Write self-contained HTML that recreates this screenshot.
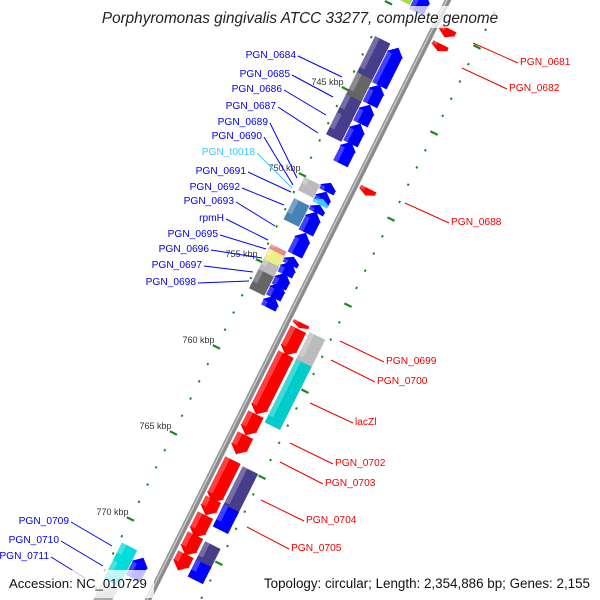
<!DOCTYPE html>
<html><head><meta charset="utf-8"><style>
html,body{margin:0;padding:0;background:#fff;overflow:hidden;width:600px;height:600px;}
svg{display:block;font-family:"Liberation Sans","DejaVu Sans",sans-serif;}
</style></head><body>
<svg id="map" width="600" height="600" viewBox="0 0 600 600" overflow="hidden">
<g id="rot" transform="translate(448,0) rotate(26.565)"></g>
<g id="labels"></g>
<rect x="95" y="6" width="410" height="22" fill="#fff" opacity="0.75"/>
<text x="300" y="23" text-anchor="middle" font-size="15.3" font-style="italic" fill="#222">Porphyromonas gingivalis ATCC 33277, complete genome</text>
<rect x="4" y="570" width="150" height="28" fill="#fff" opacity="0.75"/>
<text x="9" y="588" font-size="13.2" fill="#111">Accession: NC_010729</text>
<rect x="257" y="570" width="340" height="28" fill="#fff" opacity="0.75"/>
<text x="590" y="588" text-anchor="end" font-size="13.4" fill="#111">Topology: circular; Length: 2,354,886 bp; Genes: 2,155</text>
</svg>
<script>
var geneStart=[738.7,741.86,744.01,745.17,746.28,747.33,749.71,750.23,750.64,750.99,751.40,752.62,754.01,754.30,754.94,755.52,756.28,771.5,
 738.7,741.86,743.95,745.23,746.28,750.06,751.28,753.95,754.19,754.83,755.41,771.3,772.3,773.5,
 739.8,740.7,749.1,756.9,757.27,758.72,762.21,763.43,764.88,767.15,768.08,769.24,770.35,
 757.15,758.72,764.94,767.15,769.30,770.35];
var geneEnd=[739.8,744.07,745.17,746.28,747.44,748.60,750.23,750.87,750.99,751.45,752.62,753.90,754.48,755.06,755.76,756.40,756.98,772.7,
 739.6,744.07,745.35,746.40,747.56,750.81,752.50,754.24,754.94,755.52,756.51,772.3,773.4,774.6,
 740.3,741.1,749.5,757.2,758.78,762.21,763.43,764.53,767.33,768.08,769.36,770.41,771.28,
 758.90,762.38,767.44,768.43,770.52,771.34];
var geneLane=[1,1,1,1,1,1,1,1,1,1,1,1,1,1,1,1,1,1,
 0,0,0,0,0,0,0,0,0,0,0,0,0,0,
 2,2,2,2,2,2,2,2,2,2,2,2,2,
 3,3,3,3,3,3];
var geneStrand=[-1,-1,-1,-1,-1,-1,-1,-1,-1,-1,-1,-1,-1,-1,-1,-1,-1,-1,
 0,0,0,0,0,0,0,0,0,0,0,0,0,0,
 1,1,1,1,1,1,1,1,1,1,1,1,1,
 0,0,0,0,0,0];
var geneColor=["#0000ff","#0000ff","#0000ff","#0000ff","#0000ff","#0000ff","#0000ff","#0000ff","#33ccff","#0000ff","#0000ff","#0000ff","#0000ff","#0000ff","#0000ff","#0000ff","#0000ff","#0000ff",
 "#aadd44","#483d8b","#666666","#483d8b","#483d8b","#bbbbbb","#4682b4","#ee8888","#eeee88","#bbbbbb","#666666","#00dddd","#00dddd","#aaaaaa",
 "#ff0000","#ff0000","#ff0000","#ff0000","#ff0000","#ff0000","#ff0000","#ff0000","#ff0000","#ff0000","#ff0000","#ff0000","#ff0000",
 "#bbbbbb","#00cccc","#483d8b","#0000ff","#483d8b","#0000ff"];
var tickKbp=[745,750,755,760,765,770];
var tickLabels=["745 kbp","750 kbp","755 kbp","760 kbp","765 kbp","770 kbp"];
var leftNames=["PGN_0684","PGN_0685","PGN_0686","PGN_0687","PGN_0689","PGN_0690","PGN_t0018","PGN_0691","PGN_0692","PGN_0693","rpmH","PGN_0695","PGN_0696","PGN_0697","PGN_0698","PGN_0709","PGN_0710","PGN_0711"];
var leftLabelY=[58,77,92,109,125,139,155,174,190,204,221,237,252,268,285,524,543,559];
var leftLabelX=[296,290,282,276,268,262,255,246,240,234,224,218,209,202,196,69,59,49];
var leftTargetX=[342,333,326,318,297,293,292,291,284,275,268,266,262,253,249,112,103,85];
var leftTargetY=[77,97,115,133,178,185,188,192,205,226,240,249,258,272,281,546,566,578];
var rightNames=["PGN_0681","PGN_0682","PGN_0688","PGN_0699","PGN_0700","lacZl","PGN_0702","PGN_0703","PGN_0704","PGN_0705"];
var rightLabelX=[520,509,451,386,377,355,335,325,306,291];
var rightLabelY=[65,91,225,364,384,425,466,486,523,551];
var rightTargetX=[473,462,405,340,331,310,290,280,261,247];
var rightTargetY=[43,68,203,341,360,403,443,462,500,527];

var NS="http://www.w3.org/2000/svg";
var rot=document.getElementById('rot');
var lab=document.getElementById('labels');
var C=0.894,S=0.447;
function uOf(k){return (112+17.2*(k-745))/C;}
function scr(lx,u){return [448+lx*C-u*S, lx*S+u*C];}
var laneX=[[-49,-32],[-31,-15],[5,22],[25,42]];
function mk(tag,parent,attrs){var e=document.createElementNS(NS,tag);for(var a in attrs)e.setAttribute(a,attrs[a]);parent.appendChild(e);return e;}

var ringX=[-52,47];
for(var r=0;r<2;r++){
  for(var k=738;k<=776;k++){
    var u=uOf(k);
    var major=(k%5===0);
    var d=mk('line',rot,{x1:ringX[r]-(major?4:1),x2:ringX[r]+(major?4:1),y1:u,y2:u,stroke:'#1a8a1a','stroke-width':2.2});
    
    
  }
}
var bb=mk('line',rot,{x1:0,x2:0,y1:-60,y2:680,stroke:'#8a8a8a','stroke-width':6});


var bb2=mk('line',rot,{x1:-1,x2:-1,y1:-60,y2:680,stroke:'#c8c8c8','stroke-width':1.6});



for(var i=0;i<geneStart.length;i++){
  var u0=uOf(geneStart[i]),u1=uOf(geneEnd[i]);
  var x0=laneX[geneLane[i]][0],x1=laneX[geneLane[i]][1],xm=(x0+x1)/2;
  var h=Math.min(8,(u1-u0)*0.6);
  var pts;
  if(geneStrand[i]<0) pts=[[xm,u0],[x1+1,u0+h],[x1,u0+h],[x1,u1],[x0,u1],[x0,u0+h],[x0-1,u0+h]];
  else if(geneStrand[i]>0) pts=[[x0,u0],[x1,u0],[x1,u1-h],[x1+1,u1-h],[xm,u1],[x0-1,u1-h],[x0,u1-h]];
  else pts=[[x0,u0],[x1,u0],[x1,u1],[x0,u1]];
  var g=mk('polygon',rot,{points:pts.map(function(p){return p.join(',');}).join(' '),fill:geneColor[i],stroke:'rgba(0,0,0,0.12)','stroke-width':0.5});
  
  
  var hl=mk('rect',rot,{x:x0,y:u0+(geneStrand[i]<0?h:0),width:(x1-x0)*0.3,height:Math.max(0,(u1-u0)-h),fill:'#fff',opacity:0.25});
  
  
}
for(var t=0;t<tickKbp.length;t++){
  var p=scr(ringX[0],uOf(tickKbp[t]));
  var tx=mk('text',lab,{x:p[0]-2,y:p[1]-4,'text-anchor':'end','font-size':9,fill:'#333'});
  tx.textContent=tickLabels[t];
  
  
}
for(var j=0;j<leftNames.length;j++){
  var ln=mk('line',lab,{x1:leftLabelX[j]+2,y1:leftLabelY[j]-2,x2:leftTargetX[j],y2:leftTargetY[j],stroke:leftNames[j]==='PGN_t0018'?'#33ccff':'#0000ee','stroke-width':1});
  
  
  var te=mk('text',lab,{x:leftLabelX[j],y:leftLabelY[j],'text-anchor':'end','font-size':10.2,fill:leftNames[j]==='PGN_t0018'?'#33ccff':'#0000ee'});
  te.textContent=leftNames[j];
  
  
}
for(var j=0;j<rightNames.length;j++){
  var ln=mk('line',lab,{x1:rightTargetX[j],y1:rightTargetY[j],x2:rightLabelX[j]-2,y2:rightLabelY[j]-2,stroke:'#ee0000','stroke-width':1});
  
  
  var te=mk('text',lab,{x:rightLabelX[j],y:rightLabelY[j],'font-size':10.2,fill:'#ee0000'});
  te.textContent=rightNames[j];
  
  
}
</script>
</body></html>
